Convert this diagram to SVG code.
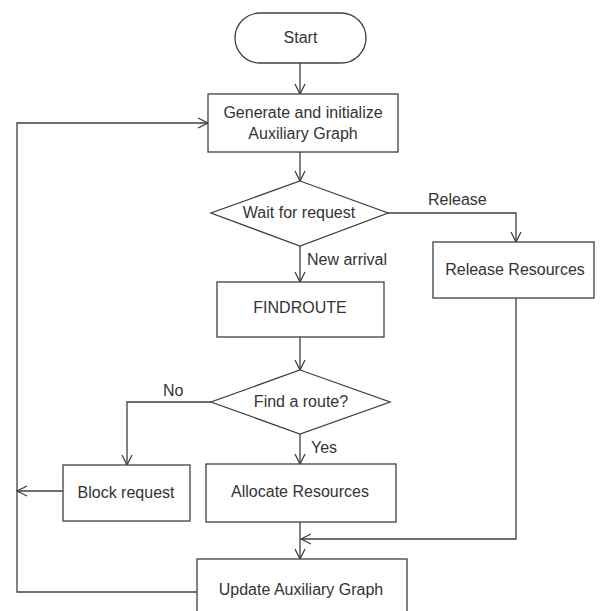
<svg xmlns="http://www.w3.org/2000/svg" width="600" height="611" viewBox="0 0 600 611">
  <defs>
    <marker id="arrow" markerUnits="userSpaceOnUse" markerWidth="12" markerHeight="12" refX="10" refY="5" orient="auto" overflow="visible">
      <path d="M0,0 L10,5 L0,10" fill="none" stroke="#404040" stroke-width="1.3"/>
    </marker>
    <style>
      .shape { fill: #ffffff; stroke: #404040; stroke-width: 1.3; }
      .edge { fill: none; stroke: #404040; stroke-width: 1.3; marker-end: url(#arrow); }
      .line { fill: none; stroke: #404040; stroke-width: 1.3; }
      text { font-family: "Liberation Sans", Arial, sans-serif; font-size: 16px; fill: #333333; }
      .c { text-anchor: middle; }
    </style>
  </defs>
  <rect width="600" height="611" fill="#ffffff"/>

  <!-- connectors -->
  <g id="connectors">
    <path class="edge" d="M300,63 L300,94"/>
    <path class="edge" d="M300,152 L300,181"/>
    <path class="edge" d="M300,246 L300,282"/>
    <path class="edge" d="M300,337 L300,370"/>
    <path class="edge" d="M300,434 L300,464"/>
    <path class="edge" d="M300,522 L300,559"/>
    <path class="edge" d="M388,213 L516,213 L516,242"/>
    <path class="edge" d="M516,298 L516,539 L301,539"/>
    <path class="edge" d="M211,402 L127,402 L127,465"/>
    <path class="edge" d="M63,491 L17,491"/>
    <path class="edge" d="M197,592 L17,592 L17,123 L208,123"/>
    <text x="428" y="205">Release</text>
    <text x="307" y="265">New arrival</text>
    <text x="163" y="396">No</text>
    <text x="311" y="453">Yes</text>
  </g>

  <g id="start">
    <rect class="shape" x="235" y="13" width="131" height="50" rx="25" ry="25"/>
    <text class="c" x="300.5" y="43">Start</text>
  </g>

  <g id="generate">
    <rect class="shape" x="208" y="94" width="190" height="58"/>
    <text class="c" x="303" y="118">Generate and initialize</text>
    <text class="c" x="303" y="139">Auxiliary Graph</text>
  </g>

  <g id="wait">
    <polygon class="shape" points="300,181 388,213 300,246 211,213"/>
    <text class="c" x="299" y="218">Wait for request</text>
  </g>

  <g id="release">
    <rect class="shape" x="433" y="242" width="161" height="56"/>
    <text class="c" x="515" y="275">Release Resources</text>
  </g>

  <g id="findroute">
    <rect class="shape" x="217" y="282" width="167" height="55"/>
    <text class="c" x="300" y="313">FINDROUTE</text>
  </g>

  <g id="find">
    <polygon class="shape" points="300,370 390,402 300,434 211,402"/>
    <text class="c" x="301" y="407">Find a route?</text>
  </g>

  <g id="block">
    <rect class="shape" x="63" y="465" width="127" height="56"/>
    <text class="c" x="126" y="498">Block request</text>
  </g>

  <g id="allocate">
    <rect class="shape" x="206" y="464" width="190" height="58"/>
    <text class="c" x="300" y="497">Allocate Resources</text>
  </g>

  <g id="update">
    <rect class="shape" x="197" y="559" width="210" height="62"/>
    <text class="c" x="301" y="595">Update Auxiliary Graph</text>
  </g>
</svg>
